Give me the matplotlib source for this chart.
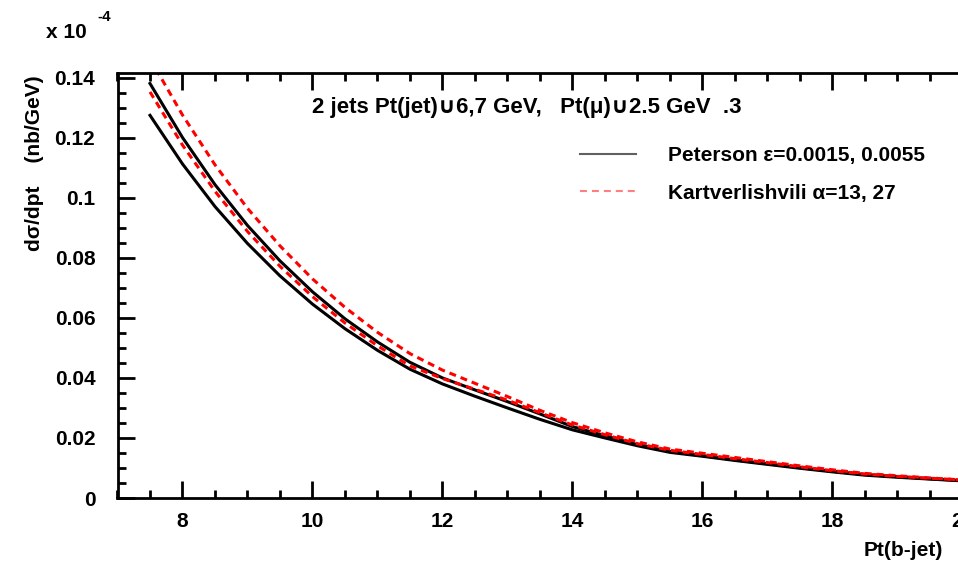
import matplotlib
matplotlib.use("Agg")
import matplotlib.pyplot as plt
from matplotlib.lines import Line2D
from matplotlib.ticker import MultipleLocator

plt.rcParams['font.family'] = ['Liberation Sans', 'DejaVu Sans']
plt.rcParams['font.weight'] = 'bold'
plt.rcParams['lines.scale_dashes'] = False

# ---- data ----
pt = [7.5, 8.0, 8.5, 9.0, 9.5, 10.0, 10.5, 11.0, 11.5, 12.0, 12.5, 13.0, 13.5,
      14.0, 14.5, 15.0, 15.5, 16.0, 16.5, 17.0, 17.5, 18.0, 18.5, 19.0, 19.5, 20.0]
peterson_lo = [0.1275, 0.1113, 0.0971, 0.0848, 0.0740, 0.0646, 0.0564, 0.0492, 0.0429,
               0.0380, 0.0339, 0.0300, 0.0262, 0.0227, 0.0200, 0.0174, 0.0152, 0.0139,
               0.0125, 0.0112, 0.0099, 0.0087, 0.0076, 0.0069, 0.0063, 0.0057]
peterson_hi = [0.1381, 0.1201, 0.1044, 0.0908, 0.0790, 0.0687, 0.0597, 0.0520, 0.0452,
               0.0400, 0.0360, 0.0321, 0.0280, 0.0238, 0.0207, 0.0178, 0.0155, 0.0141,
               0.0127, 0.0114, 0.0101, 0.0089, 0.0078, 0.0071, 0.0064, 0.0058]
kart_lo = [0.1353, 0.1176, 0.1022, 0.0888, 0.0772, 0.0671, 0.0583, 0.0507, 0.0440,
           0.0398, 0.0362, 0.0326, 0.0284, 0.0243, 0.0211, 0.0181, 0.0159, 0.0145,
           0.0131, 0.0118, 0.0104, 0.0091, 0.0080, 0.0072, 0.0066, 0.0060]
kart_hi = [0.1464, 0.1276, 0.1110, 0.0965, 0.0840, 0.0730, 0.0635, 0.0552, 0.0481,
           0.0426, 0.0382, 0.0338, 0.0292, 0.0251, 0.0217, 0.0187, 0.0163, 0.0149,
           0.0135, 0.0121, 0.0107, 0.0094, 0.0082, 0.0074, 0.0067, 0.0060]

W, H = 958, 566
fig = plt.figure(figsize=(W / 100, H / 100), dpi=100)
ax = fig.add_axes([117.5 / W, (H - 498) / H, 877.5 / W, 425 / H])

ax.plot(pt, peterson_lo, color='black', lw=2.2)
ax.plot(pt, peterson_hi, color='black', lw=2.2)
ax.plot(pt, kart_lo, color='red', lw=2.2, ls=(0, (5, 3.6)))
ax.plot(pt, kart_hi, color='red', lw=2.2, ls=(0, (5, 3.6)))

ax.set_xlim(7, 20.5)
ax.set_ylim(0, 0.1416)
ax.xaxis.set_major_locator(MultipleLocator(2))
ax.xaxis.set_minor_locator(MultipleLocator(0.5))
ax.yaxis.set_minor_locator(MultipleLocator(0.005))
ax.set_yticks([0, 0.02, 0.04, 0.06, 0.08, 0.1, 0.12, 0.14])
ax.set_yticklabels(['0', '0.02', '0.04', '0.06', '0.08', '0.1', '0.12', '0.14'])
ax.tick_params(which='both', direction='in', top=True, right=False, width=2,
               labelsize=15)
ax.tick_params(which='major', length=12)
ax.tick_params(which='minor', length=6)
ax.tick_params(axis='y', which='major', pad=16)
ax.tick_params(axis='x', which='major', pad=10)
for lab in ax.get_xticklabels() + ax.get_yticklabels():
    lab.set_fontweight('bold')
for s in ax.spines.values():
    s.set_linewidth(2)

fig.text(46 / W, 1 - 32 / H, 'x 10', fontsize=15, fontweight='bold',
         ha='left', va='center')
fig.text(97 / W, 1 - 17 / H, '-4', fontsize=11, fontweight='bold',
         ha='left', va='center')
fig.text(35 / W, 1 - 75 / H, 'd\u03c3/dpt    (nb/GeV)', rotation=90,
         fontsize=15, fontweight='bold', ha='center', va='top')
fig.text(943 / W, 1 - 551 / H, 'Pt(b-jet)', fontsize=15, fontweight='bold',
         ha='right', va='center')
fig.text(312 / W, 1 - 108 / H,
         '2 jets Pt(jet)\u222a6,7 GeV,   Pt(\u03bc)\u222a2.5 GeV  .3',
         fontsize=16, fontweight='bold', ha='left', va='center')

handles = [Line2D([], [], color='#606060', lw=1.5),
           Line2D([], [], color='#ff7f7f', lw=1.5, ls=(0, (5, 3.6)))]
labels = ['Peterson \u03b5=0.0015, 0.0055', 'Kartverlishvili \u03b1=13, 27']
fig.legend(handles, labels, loc='upper left',
           bbox_to_anchor=(580 / W, 1 - 146 / H), frameon=False,
           borderpad=0, borderaxespad=0, handlelength=2.7,
           handletextpad=1.5, labelspacing=0.89,
           prop={'size': 15, 'weight': 'bold'})

fig.savefig('out.png', dpi=100)
